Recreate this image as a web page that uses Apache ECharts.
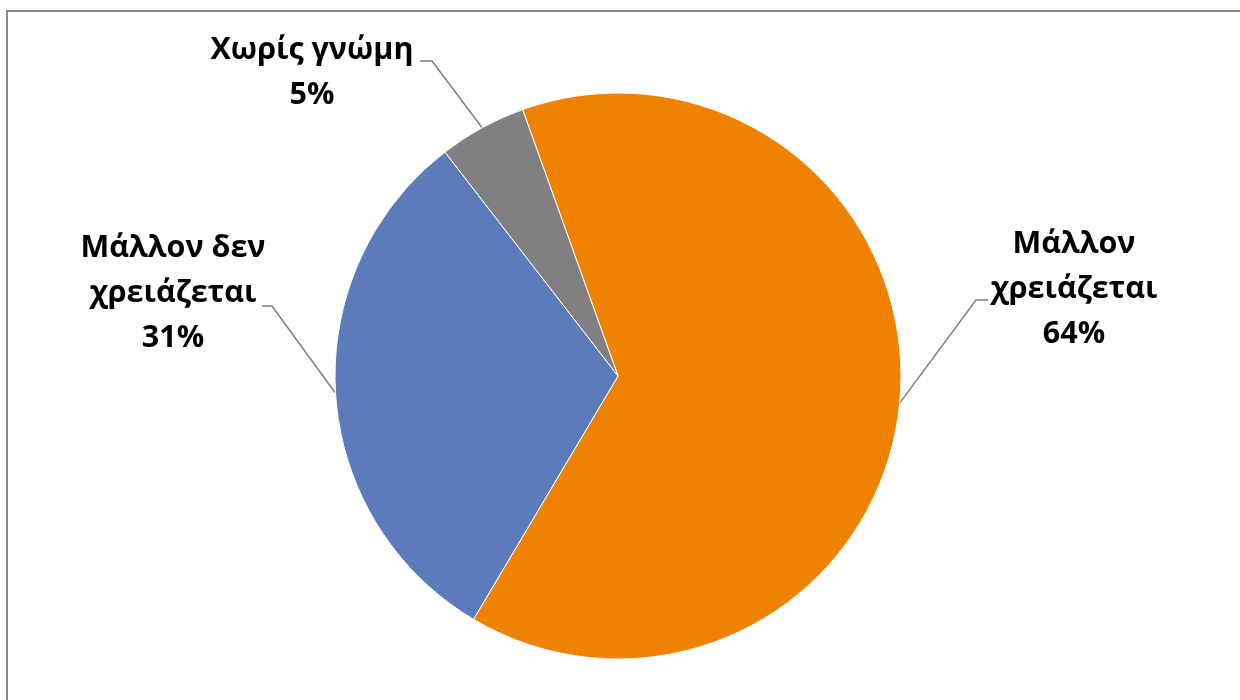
<!DOCTYPE html>
<html>
<head>
<meta charset="utf-8">
<script src="https://cdn.jsdelivr.net/npm/echarts@6/dist/echarts.min.js"></script>
<style>
html,body{margin:0;padding:0;background:#fff;}
#chart{width:1240px;height:700px;}
</style>
</head>
<body>
<div id="chart"></div>
<script>
// Data
const categories = ['Μάλλον χρειάζεται', 'Μάλλον δεν χρειάζεται', 'Χωρίς γνώμη'];
const labelNames = ['Μάλλον\nχρειάζεται', 'Μάλλον δεν\nχρειάζεται', 'Χωρίς γνώμη'];
const values = [64, 31, 5];
const colors = ['#EF8200', '#5B7BBA', '#808080'];

// Label placement (layout only)
const labelPlace = [
  { x: 1074, y: 289, elbow: [976, 300], end: [988, 300] },
  { x: 173, y: 293, elbow: [272, 306], end: [262, 306] },
  { x: 312, y: 73, elbow: [432, 61], end: [420, 61] }
];

const chart = echarts.init(document.getElementById('chart'), null, { renderer: 'canvas' });
const option = {
  backgroundColor: '#ffffff',
  animation: false,
  graphic: [{
    type: 'rect',
    shape: { x: 7, y: 11, width: 1300, height: 800 },
    style: { fill: 'none', stroke: '#8a8a8a', lineWidth: 2 },
    z: 0
  }],
  series: [{
    type: 'pie',
    center: [618, 376],
    radius: 283,
    startAngle: 109.7,
    clockwise: true,
    avoidLabelOverlap: false,
    data: categories.map((c, i) => ({
      name: c,
      value: values[i],
      itemStyle: { color: colors[i] }
    })),
    itemStyle: { borderColor: '#ffffff', borderWidth: 1 },
    label: {
      show: true,
      position: 'outside',
      formatter: p => labelNames[p.dataIndex] + '\n' + Math.round(p.percent) + '%',
      fontFamily: '"Open Sans", "Noto Sans", sans-serif',
      fontWeight: 'bold',
      fontSize: 30.5,
      lineHeight: 45,
      color: '#000000',
      align: 'center'
    },
    labelLine: {
      show: true,
      length: 40,
      length2: 12,
      lineStyle: { color: '#7f7f7f', width: 1.5 }
    },
    labelLayout: function (params) {
      const pl = labelPlace[params.dataIndex];
      const pts = params.labelLinePoints;
      const start = pts && pts[0] ? pts[0] : pl.elbow;
      return {
        x: pl.x,
        y: pl.y,
        align: 'center',
        verticalAlign: 'middle',
        labelLinePoints: [start, pl.elbow, pl.end]
      };
    },
    emphasis: { disabled: true }
  }]
};
chart.setOption(option);
</script>
</body>
</html>
